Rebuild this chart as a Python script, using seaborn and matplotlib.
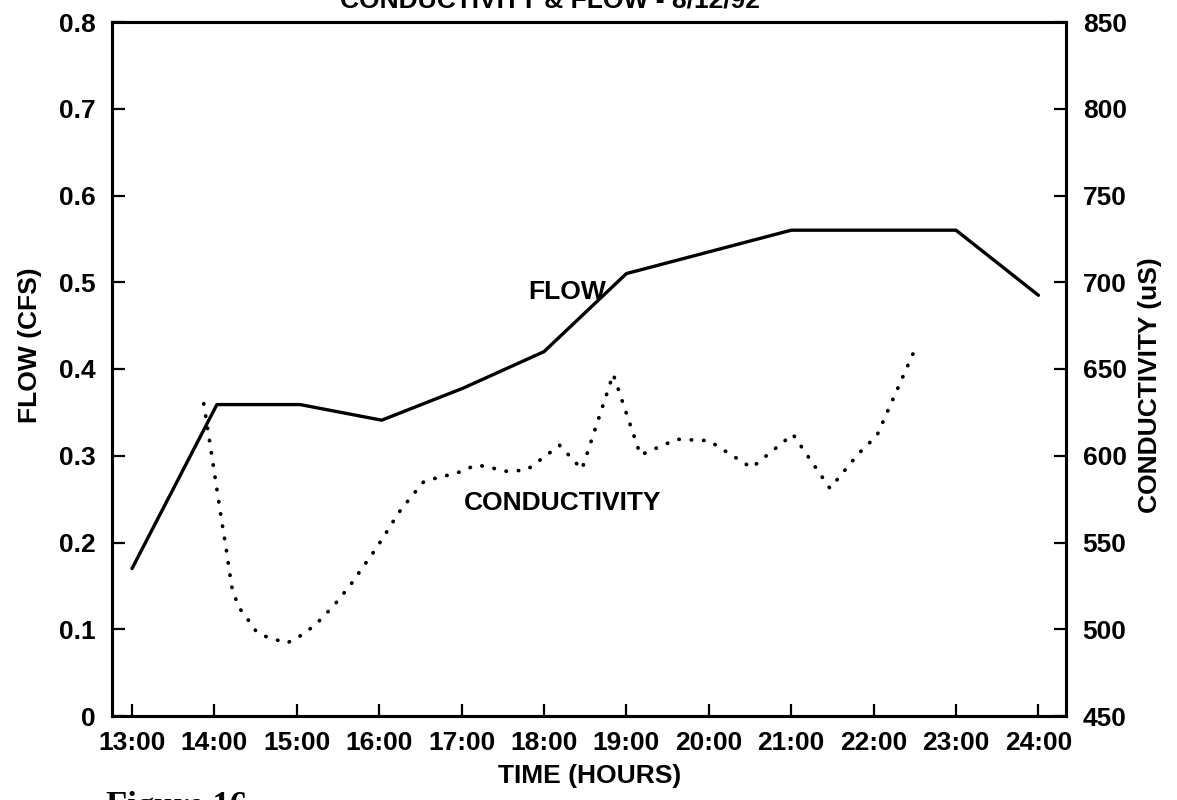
import matplotlib
matplotlib.use("Agg")
import matplotlib.pyplot as plt
import seaborn as sns
import pandas as pd

# ---- data ----
flow_hours = [13.0, 14.03, 15.04, 16.03, 17.02, 18.0, 19.0, 20.0, 21.0, 22.0, 23.0, 24.0]
flow_cfs = [0.17, 0.359, 0.359, 0.341, 0.378, 0.42, 0.51, 0.535, 0.56, 0.56, 0.56, 0.485]

cond_hours = [13.87, 13.93, 14.01, 14.07, 14.15, 14.21, 14.29, 14.37, 14.51, 14.63,
              14.88, 15.10, 15.30, 15.49, 15.65, 15.79, 15.95, 16.09, 16.23, 16.39,
              16.54, 16.68, 16.94, 17.18, 17.30, 17.55, 17.79, 18.19, 18.46, 18.84,
              19.17, 19.61, 20.0, 20.52, 21.02, 21.47, 21.82, 22.04, 22.52]
cond_us = [630, 612, 587, 568, 544, 524.5, 513, 508, 498.6, 495.7,
           492, 497.7, 506, 516, 525.5, 535, 545.7, 556, 566.8, 576.4,
           585, 587, 590, 594.7, 593.7, 591, 591.8, 606, 592.2, 647,
           600.4, 609.5, 608.7, 593.1, 612.4, 581.2, 601.4, 611.6, 663.3]

hour_ticks = list(range(13, 25))
hour_labels = [f"{h}:00" for h in hour_ticks]
flow_ticks = [0, 0.1, 0.2, 0.3, 0.4, 0.5, 0.6, 0.7, 0.8]
flow_tick_labels = ["0", "0.1", "0.2", "0.3", "0.4", "0.5", "0.6", "0.7", "0.8"]
cond_ticks = [450, 500, 550, 600, 650, 700, 750, 800, 850]

title_text = "CONDUCTIVITY & FLOW - 8/12/92"

# ---- style ----
sns.set_theme(style="white")
plt.rcParams["font.family"] = ["Liberation Sans", "DejaVu Sans"]
plt.rcParams["font.weight"] = "bold"
plt.rcParams["text.color"] = "black"
plt.rcParams["axes.labelcolor"] = "black"
plt.rcParams["xtick.color"] = "black"
plt.rcParams["ytick.color"] = "black"

FS = 19
W, H = 1177, 800
fig = plt.figure(figsize=(W / 100, H / 100), dpi=100)
ax = fig.add_axes([112 / W, 1 - 716 / H, (1066 - 112) / W, (716 - 22) / H])

flow_df = pd.DataFrame({"hour": flow_hours, "flow": flow_cfs})
cond_df = pd.DataFrame({"hour": cond_hours, "cond": cond_us})

sns.lineplot(data=flow_df, x="hour", y="flow", ax=ax, color="black", lw=2.4,
             sort=False, estimator=None)
ax.set_xlim(12.757, 24.335)
ax.set_ylim(0, 0.8)
ax.set_xticks(hour_ticks)
ax.set_xticklabels(hour_labels)
ax.set_yticks(flow_ticks)
ax.set_yticklabels(flow_tick_labels)
ax.set_xlabel("")
ax.set_ylabel("")

ax2 = ax.twinx()
sns.lineplot(data=cond_df, x="hour", y="cond", ax=ax2, color="black", lw=2.7,
             sort=False, estimator=None, linestyle=(0, (0.1, 3.2)),
             dash_capstyle="round")
ax2.set_ylim(450, 850)
ax2.set_yticks(cond_ticks)
ax2.set_ylabel("")
ax2.set_xlim(12.757, 24.335)

for a in (ax, ax2):
    for s in a.spines.values():
        s.set_color("black")
        s.set_linewidth(2.2)

ax.tick_params(axis="both", which="major", direction="in", length=9, width=1.6,
               color="black", labelsize=FS, labelcolor="black")
ax.tick_params(axis="x", pad=11, bottom=True, top=False)
ax.tick_params(axis="y", pad=12, left=True, right=False)
ax2.tick_params(axis="y", direction="in", length=9, width=1.6, color="black",
                labelsize=FS, labelcolor="black", pad=12, right=True, left=False)

for lab in ax.get_xticklabels() + ax.get_yticklabels() + ax2.get_yticklabels():
    lab.set_fontweight("bold")
    lab.set_color("black")

# annotations in data coordinates
ax.text(18.28, 0.489, "FLOW", fontsize=FS, fontweight="bold", ha="center",
        va="center", color="black")
ax.text(18.22, 0.2455, "CONDUCTIVITY", fontsize=FS, fontweight="bold", ha="center",
        va="center", color="black")

# figure-level text
fig.text(550 / W, 1 - 8 / H, title_text, fontsize=FS, fontweight="bold",
         ha="center", va="baseline", color="black")
fig.text(590 / W, 1 - 776 / H, "TIME (HOURS)", fontsize=FS, fontweight="bold",
         ha="center", va="center", color="black")
fig.text(30 / W, 1 - 345 / H, "FLOW (CFS)", fontsize=FS, fontweight="bold",
         ha="center", va="center", rotation=90, color="black")
fig.text(1150 / W, 1 - 385 / H, "CONDUCTIVITY (uS)", fontsize=FS, fontweight="bold",
         ha="center", va="center", rotation=90, color="black")
fig.text(106 / W, 1 - 791 / H, "Figure 16", fontsize=25, fontweight="bold",
         ha="left", va="top", family=["Liberation Serif", "DejaVu Serif"], color="black")

fig.savefig("out.png", dpi=100)
